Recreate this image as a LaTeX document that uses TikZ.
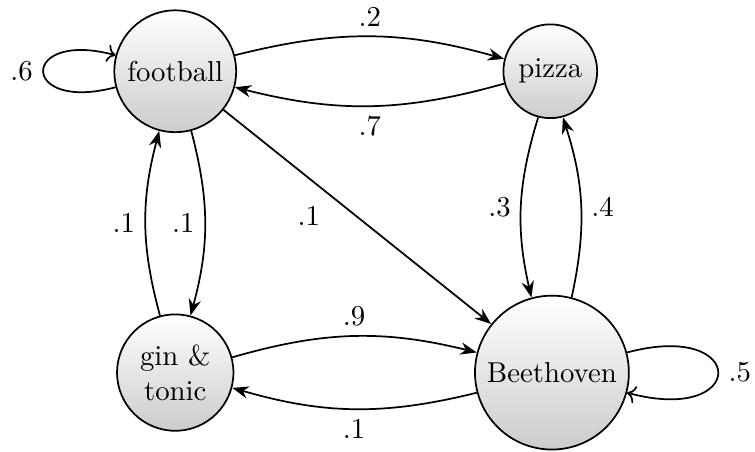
\documentclass[tikz,border=0pt]{standalone}
\usepackage{amsmath}
\usepackage{xcolor}
\usepackage{tikz}
\usetikzlibrary{positioning,calc,arrows,arrows.meta,automata}

\begin{document}
\begin{tikzpicture}[>={Stealth[black]},
                    state/.style={circle,semithick,draw,align=center,
                                  top color=white,bottom color=gray!40},
                    every edge/.style={draw,semithick},
                    every loop/.style={draw,semithick,-{To}}]
    \useasboundingbox (0,0) rectangle (9.22,-5.51);
    %Nodes
        \node[state] (football) at (2.14,-0.87) {football};
        \node[state] (pizza) at (6.72,-0.87) {pizza};
        \node[state] (gin) at (2.14,-4.55) {gin \&\\tonic};
        \node[state] (beethoven) at (6.74,-4.55) {Beethoven};

    %Lines
        \path[->] (football) edge[loop left] node[left] (l66) {.6} (football);
        \path[->] (football) edge[bend left=15] node[above] (l62) {.2} (pizza);
        \path[->] (pizza) edge[bend left=15] node[below] (l27) {.7} (football);
        \path[->] (football) edge node[pos=0.4,below left] (l61) {.1} (beethoven);
        \path[->] (football) edge[bend left=15] node[left] (l6g) {.1} (gin);
        \path[->] (gin) edge[bend left=15] node[left] (lg6) {.1} (football);
        \path[->] (pizza) edge[bend right=15] node[left] (l23) {.3} (beethoven);
        \path[->] (beethoven) edge[bend right=15] node[right] (l34) {.4} (pizza);
        \path[->] (gin) edge[bend left=15] node[above] (lg9) {.9} (beethoven);
        \path[->] (beethoven) edge[bend left=15] node[below] (lb1) {.1} (gin);
        \path[->] (beethoven) edge[loop right] node[right] (lb5) {.5} (beethoven);
\end{tikzpicture}
\end{document}
